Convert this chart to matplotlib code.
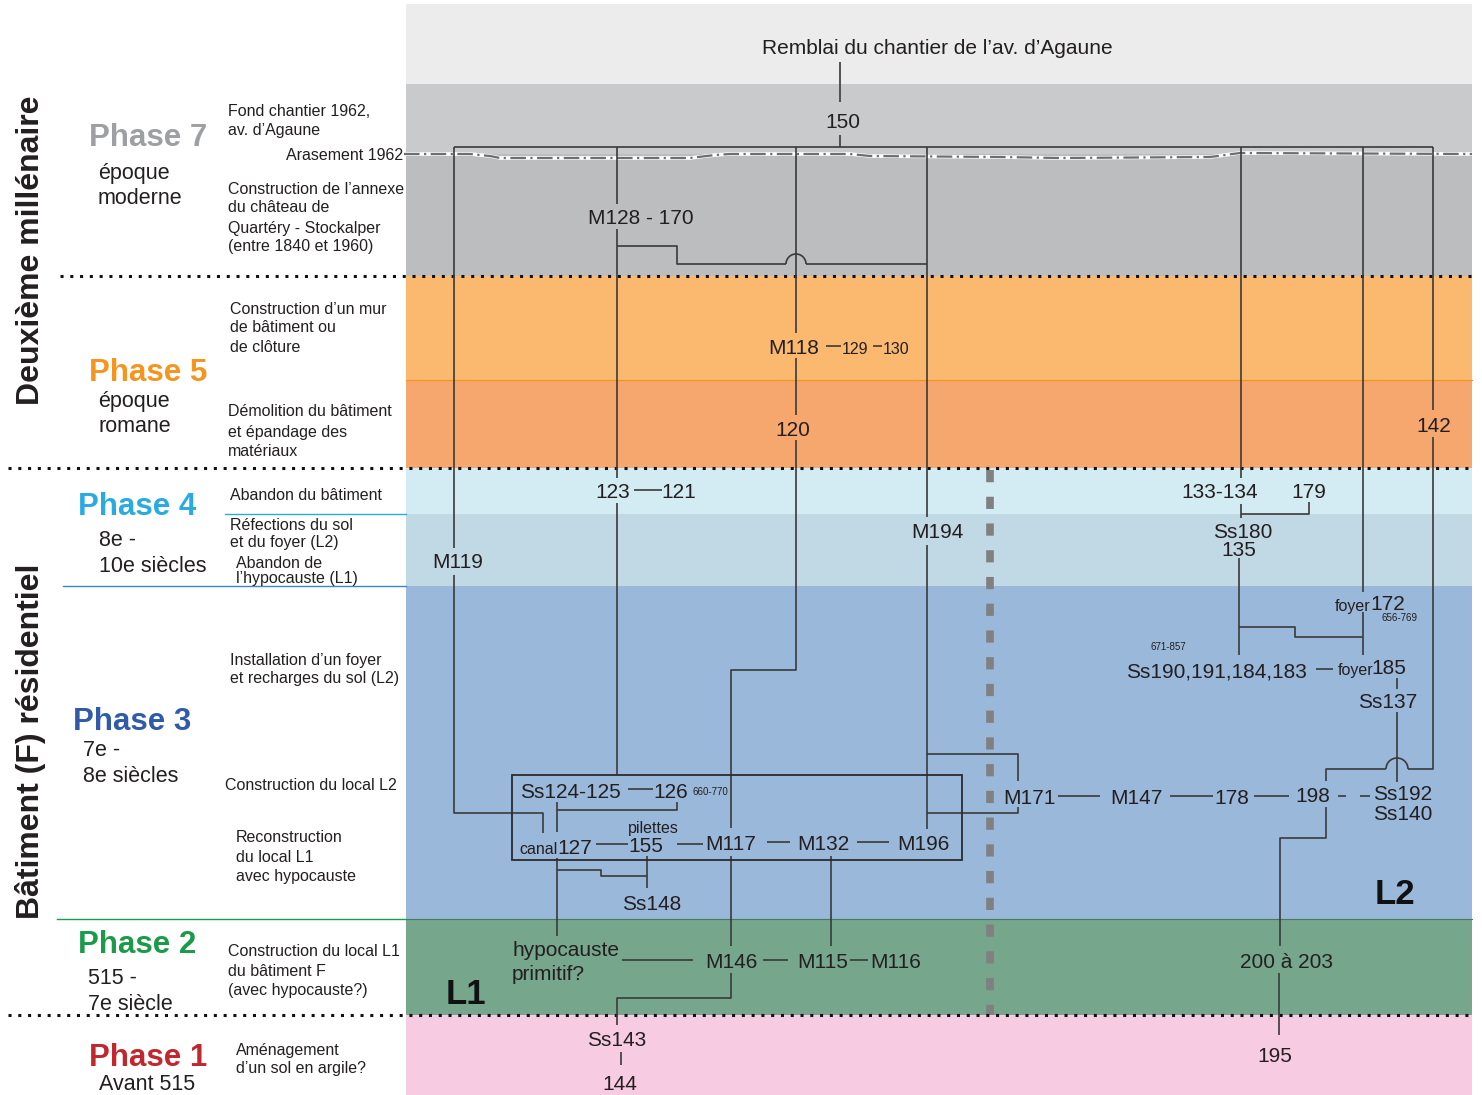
import matplotlib
matplotlib.use("Agg")
import matplotlib.pyplot as plt
from matplotlib.patches import Rectangle, Arc

plt.rcParams['font.family'] = ['Liberation Sans', 'DejaVu Sans']

W, H = 1482, 1095
INK = '#231f20'
LINE = '#3a3a3a'

# ---------------- bands ----------------
band_top = [4, 84, 154, 276, 380, 468, 514, 586, 919, 1015]
band_bottom = [84, 154, 276, 380, 468, 514, 586, 919, 1015, 1095]
band_colors = ['#ececec', '#c9cacb', '#bcbdbf', '#fbb96f', '#f6a76d',
               '#d3ecf3', '#c1d8e5', '#9ab8da', '#76a68c', '#f7cbe1']
band_x0, band_x1 = 406, 1472

# dotted separators (y, x start)
sep_y = [276, 468, 1015]
sep_x0 = [60, 8, 8]
# coloured sub-separators in left panel
sub_y = [514, 586, 919]
sub_x0 = [225, 63, 57]
sub_colors = ['#29abe2', '#3b86c8', '#1b9a4a']

# ---------------- left labels ----------------
group_labels = ['Deuxième millénaire', 'Bâtiment (F) résidentiel']
group_y = [250, 741]

phase_names = ['Phase 7', 'Phase 5', 'Phase 4', 'Phase 3', 'Phase 2', 'Phase 1']
phase_colors = ['#9d9fa2', '#f7941d', '#29abe2', '#2f5ba8', '#1b9a4a', '#c1272d']
phase_x = [89, 89, 78, 73, 78, 89]
phase_y = [135, 370, 504, 719, 942, 1055]

period_lines = ['époque', 'moderne', 'époque', 'romane', '8e -', '10e siècles',
                '7e -', '8e siècles', '515 -', '7e siècle', 'Avant 515']
period_x = [98, 98, 98, 98, 99, 99, 83, 83, 88, 88, 99]
period_y = [171, 197, 399, 425, 538, 564, 748, 774, 976, 1002, 1082]

desc_lines = ['Fond chantier 1962,', 'av. d’Agaune',
              'Construction de l’annexe', 'du château de', 'Quartéry - Stockalper',
              '(entre 1840 et 1960)',
              'Construction d’un mur', 'de bâtiment ou', 'de clôture',
              'Démolition du bâtiment', 'et épandage des', 'matériaux',
              'Abandon du bâtiment',
              'Réfections du sol', 'et du foyer (L2)',
              'Abandon de', 'l’hypocauste (L1)',
              'Installation d’un foyer', 'et recharges du sol (L2)',
              'Construction du local L2',
              'Reconstruction', 'du local L1', 'avec hypocauste',
              'Construction du local L1', 'du bâtiment F', '(avec hypocauste?)',
              'Aménagement', 'd’un sol en argile?']
desc_x = [228, 228, 228, 228, 228, 228, 230, 230, 230, 228, 228, 228, 230,
          230, 230, 236, 236, 230, 230, 225, 236, 236, 236, 228, 228, 228, 236, 236]
desc_y = [110, 129, 187, 206, 226, 245, 307, 326, 345, 410, 430, 449, 494,
          524, 540, 561, 577, 658, 677, 784, 836, 855, 874, 950, 969, 988, 1048, 1067]

# ---------------- stratigraphic units ----------------
unit_labels = ['Remblai du chantier de l’av. d’Agaune', '150', 'M128 - 170', 'M118',
               '129', '130', '120', '142', '123', '121', '133-134', '179', 'Ss180',
               '135', 'M194', 'M119', 'foyer', '172', '656-769', '671-857',
               'Ss190,191,184,183', 'foyer', '185', 'Ss137', 'Ss124-125', '126',
               '660-770', 'M171', 'M147', '178', '198', 'Ss192', 'Ss140', 'canal',
               '127', 'pilettes', '155', 'M117', 'M132', 'M196', 'Ss148', 'M146',
               'M115', 'M116', '200 à 203', 'Ss143', '144', '195',
               'hypocauste', 'primitif?']
unit_x = [937, 843, 641, 794, 855, 896, 793, 1434, 613, 679, 1220, 1309, 1243,
          1239, 937, 458, 1353, 1388, 1400, 1168, 1216, 1356, 1389, 1388, 570, 671,
          710, 1029, 1136, 1232, 1313, 1403, 1403, 539, 575, 653, 646, 731, 823, 923,
          652, 731, 823, 896, 1286, 617, 620, 1275, 512, 512]
unit_y = [47, 120, 216, 346, 348, 348, 428, 424, 491, 491, 491, 491, 530,
          548, 531, 561, 604, 602, 616, 645, 670, 669, 667, 701, 790, 790,
          790, 796, 796, 796, 795, 792, 813, 848, 846, 827, 844, 842, 842, 842,
          902, 960, 960, 960, 960, 1038, 1082, 1054, 948, 972]
unit_size = [15, 15, 15, 15, 11.5, 11.5, 15, 15, 15, 15, 15, 15, 15,
             15, 15, 15, 11.5, 15, 7, 7, 15, 11.5, 15, 15, 15, 15,
             7, 15, 15, 15, 15, 15, 15, 11.5, 15, 11.5, 15, 15, 15, 15,
             15, 15, 15, 15, 15, 15, 15, 15, 15, 15]
unit_ha = ['center'] * 48 + ['left', 'left']

local_labels = ['L1', 'L2']
local_x = [466, 1395]
local_y = [991, 891]

# ---------------- links (polylines) ----------------
links = [
    [(840, 62), (840, 102)],
    [(840, 135), (840, 147)],
    [(454, 147), (1433, 147)],
    [(454, 147), (454, 548)],
    [(454, 575), (454, 813), (543, 813), (543, 833)],
    [(617, 147), (617, 204)],
    [(617, 229), (617, 478)],
    [(617, 246), (677, 246), (677, 264), (786, 264)],
    [(806, 264), (927, 264)],
    [(796, 147), (796, 333)],
    [(796, 358), (796, 415)],
    [(796, 440), (796, 670), (731, 670), (731, 828)],
    [(731, 856), (731, 946)],
    [(927, 147), (927, 517)],
    [(927, 545), (927, 829)],
    [(927, 754), (1018, 754), (1018, 781)],
    [(927, 813), (1018, 813), (1018, 807)],
    [(1241, 147), (1241, 478)],
    [(1241, 504), (1241, 518)],
    [(1241, 514), (1309, 514), (1309, 502)],
    [(1363, 147), (1363, 592)],
    [(1433, 147), (1433, 410)],
    [(1433, 437), (1433, 769), (1408, 769)],
    [(1386, 769), (1326, 769), (1326, 781)],
    [(1239, 558), (1239, 655)],
    [(1239, 627), (1295, 627), (1295, 637), (1363, 637)],
    [(1363, 612), (1363, 655)],
    [(1397, 678), (1397, 689)],
    [(1397, 712), (1397, 782)],
    [(1326, 807), (1326, 838), (1280, 838), (1280, 946)],
    [(1279, 973), (1279, 1035)],
    [(617, 503), (617, 775)],
    [(557, 802), (557, 832)],
    [(557, 810), (677, 810), (677, 802)],
    [(596, 844), (628, 844)],
    [(677, 844), (703, 844)],
    [(767, 842), (790, 842)],
    [(857, 842), (889, 842)],
    [(628, 789), (653, 789)],
    [(557, 858), (557, 936)],
    [(557, 870), (601, 870), (601, 876), (647, 876)],
    [(647, 856), (647, 888)],
    [(622, 960), (693, 960)],
    [(763, 960), (788, 960)],
    [(850, 960), (868, 960)],
    [(831, 856), (831, 946)],
    [(731, 973), (731, 998), (617, 998), (617, 1025)],
    [(621, 1052), (621, 1065)],
    [(1058, 796), (1100, 796)],
    [(1170, 796), (1213, 796)],
    [(1254, 796), (1289, 796)],
    [(1338, 796), (1346, 796)],
    [(1360, 796), (1370, 796)],
    [(634, 490), (662, 490)],
    [(826, 346), (841, 346)],
    [(873, 346), (882, 346)],
    [(1316, 669), (1333, 669)],
]
bridge_x = [796, 1397]
bridge_y = [264, 769]
bridge_r = [10, 11]

box_xy = (512, 775)
box_wh = (450, 85)

arasement_x = [404, 470, 490, 500, 690, 715, 730, 850, 870, 1000, 1060, 1210, 1240, 1472]
arasement_y = [154, 154, 156, 158, 158, 155, 154, 154, 156, 157, 158, 157, 153, 154]

# ---------------- drawing ----------------
TXT_DY = 2      # visual centring correction for text
fig = plt.figure(figsize=(W / 100, H / 100), dpi=100)
ax = fig.add_axes([0, 0, 1, 1])
ax.set_xlim(0, W)
ax.set_ylim(H, 0)
ax.axis('off')

for t, b, c in zip(band_top, band_bottom, band_colors):
    ax.add_patch(Rectangle((band_x0, t), band_x1 - band_x0, b - t, color=c, lw=0, zorder=0))
ax.plot([band_x0, band_x1], [380, 380], color='#f7941d', lw=0.8, zorder=1)
ax.plot([band_x0, band_x1], [919, 919], color='#4a7a5e', lw=0.8, zorder=1)

for y, x0 in zip(sep_y, sep_x0):
    ax.plot([x0, band_x1], [y, y], color='#111111', lw=2.2, ls=(0, (1, 2.2)), zorder=3)
for y, x0, c in zip(sub_y, sub_x0, sub_colors):
    ax.plot([x0, band_x0], [y, y], color=c, lw=1.0, zorder=3)

# arasement line
ax.plot(arasement_x, arasement_y, color='white', lw=2.6, zorder=2)
ax.plot(arasement_x, arasement_y, color='#6d6e70', lw=1.6, ls=(0, (7, 2, 1, 2)), zorder=2)

# vertical division L1 / L2
ax.plot([990, 990], [470, 1015], color='#808080', lw=5.5, ls=(0, (1.6, 1.9)), zorder=2)

for pts in links:
    xs, ys = zip(*pts)
    ax.plot(xs, ys, color=LINE, lw=1.2, zorder=4, solid_capstyle='butt')
for bx, by, br in zip(bridge_x, bridge_y, bridge_r):
    ax.add_patch(Arc((bx, by), 2 * br, 2 * br, theta1=180, theta2=360,
                     color=LINE, lw=1.2, zorder=4))
ax.add_patch(Rectangle(box_xy, box_wh[0], box_wh[1], fill=False, ec='#2b2b2b', lw=1.3, zorder=4))

for lab, gy in zip(group_labels, group_y):
    ax.text(31, gy, lab, rotation=90, ha='center', va='center', fontsize=23,
            fontweight='bold', color=INK)
for n, c, x, y in zip(phase_names, phase_colors, phase_x, phase_y):
    ax.text(x, y + 3, n, ha='left', va='center', fontsize=22.5, fontweight='bold', color=c)
for s, x, y in zip(period_lines, period_x, period_y):
    ax.text(x, y + TXT_DY, s, ha='left', va='center', fontsize=15.5, color=INK)
for s, x, y in zip(desc_lines, desc_x, desc_y):
    ax.text(x, y + TXT_DY, s, ha='left', va='center', fontsize=11.5, color=INK)
ax.text(403, 153 + TXT_DY, 'Arasement 1962', ha='right', va='center', fontsize=11.5, color=INK)

for s, x, y, fs, ha in zip(unit_labels, unit_x, unit_y, unit_size, unit_ha):
    ax.text(x, y + TXT_DY, s, ha=ha, va='center', fontsize=fs, color=INK, zorder=5)
for s, x, y in zip(local_labels, local_x, local_y):
    ax.text(x, y + 3, s, ha='center', va='center', fontsize=25, fontweight='bold',
            color='#111111', zorder=5)

fig.savefig('out.png', dpi=100)
